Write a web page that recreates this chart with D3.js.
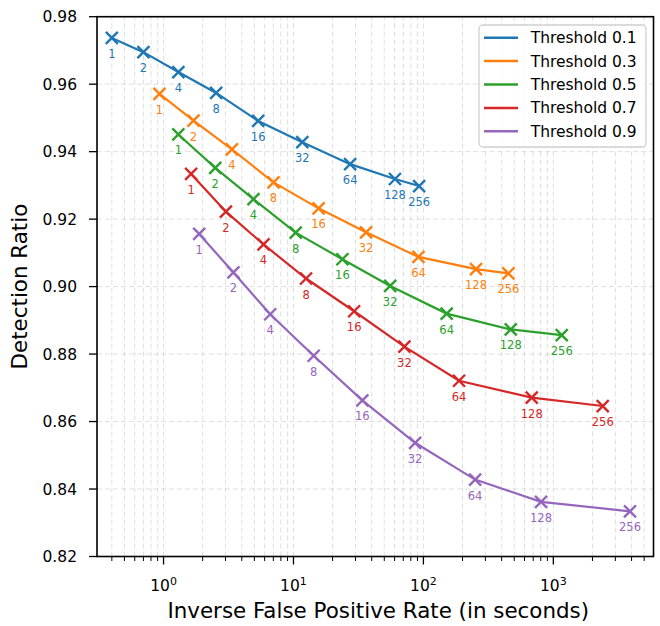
<!DOCTYPE html>
<html>
<head>
<meta charset="utf-8">
<script src="https://cdn.jsdelivr.net/npm/d3@7"></script>
<style>
  body { margin: 0; background: #fff; }
  text { font-family: "DejaVu Sans", sans-serif; }
</style>
</head>
<body>
<div class="svg-container"></div>
<script>
// budget labels shown next to each marker
const budgets = [1, 2, 4, 8, 16, 32, 64, 128, 256];
const thresholds = ['Threshold 0.1', 'Threshold 0.3', 'Threshold 0.5', 'Threshold 0.7', 'Threshold 0.9'];
const colours = ['#1f77b4', '#ff7f0e', '#2ca02c', '#d62728', '#9467bd'];

// inverse false positive rate (seconds), one array per threshold
const ifpr01 = [0.40, 0.70, 1.30, 2.54, 5.35, 11.7, 27.3, 60.4, 92.7];
const ifpr03 = [0.93, 1.70, 3.36, 7.02, 15.6, 36.2, 91.6, 254, 451];
const ifpr05 = [1.30, 2.50, 4.92, 10.4, 23.8, 55.5, 151, 470, 1161];
const ifpr07 = [1.63, 3.02, 5.88, 12.5, 29.3, 71.4, 188, 682, 2400];
const ifpr09 = [1.88, 3.45, 6.62, 14.3, 33.9, 86.3, 250, 804, 3890];

// detection ratio
const det01 = [0.9737, 0.9695, 0.9636, 0.9574, 0.9491, 0.9428, 0.9363, 0.9319, 0.9298];
const det03 = [0.9571, 0.9492, 0.9407, 0.9309, 0.9232, 0.9161, 0.9088, 0.9052, 0.9039];
const det05 = [0.9451, 0.9352, 0.9259, 0.9160, 0.9081, 0.9002, 0.8920, 0.8873, 0.8856];
const det07 = [0.9334, 0.9222, 0.9125, 0.9024, 0.8927, 0.8822, 0.8721, 0.8671, 0.8646];
const det09 = [0.9156, 0.9042, 0.8918, 0.8795, 0.8663, 0.8537, 0.8428, 0.8362, 0.8334];

const yTicks = [0.82, 0.84, 0.86, 0.88, 0.90, 0.92, 0.94, 0.96, 0.98];
const xMajor = [1, 10, 100, 1000];

const xs = [ifpr01, ifpr03, ifpr05, ifpr07, ifpr09];
const ys = [det01, det03, det05, det07, det09];

const series = thresholds.map((name, i) => ({
  name: name,
  colour: colours[i],
  points: budgets.map((b, j) => ({ b: b, x: xs[i][j], y: ys[i][j] }))
}));

// dimensions
const width = 660;
const height = 626;
const margin = { top: 16.7, right: 6.5, bottom: 69.5, left: 97 };

const svg = d3.select('.svg-container')
  .append('svg')
  .attr('width', width)
  .attr('height', height);

const x = d3.scaleLog()
  .domain([0.3075, 5900])
  .range([margin.left, width - margin.right]);

const y = d3.scaleLinear()
  .domain([0.82, 0.98])
  .range([height - margin.bottom, margin.top]);

// minor log ticks
const xMinor = [];
for (let e = -1; e <= 3; e++) {
  for (let m = 2; m <= 9; m++) {
    const v = m * Math.pow(10, e);
    if (v > x.domain()[0] && v < x.domain()[1]) xMinor.push(v);
  }
}

const grid = svg.append('g')
  .attr('stroke', '#b0b0b0')
  .attr('stroke-opacity', 0.4)
  .attr('stroke-width', 1)
  .attr('stroke-dasharray', '5,3');

grid.selectAll('.vg')
  .data(xMajor.concat(xMinor))
  .enter()
  .append('line')
  .attr('x1', d => x(d)).attr('x2', d => x(d))
  .attr('y1', y(0.82)).attr('y2', y(0.98));

grid.selectAll('.hg')
  .data(yTicks)
  .enter()
  .append('line')
  .attr('x1', x.range()[0]).attr('x2', x.range()[1])
  .attr('y1', d => y(d)).attr('y2', d => y(d));

// lines and markers
const line = d3.line()
  .x(d => x(d.x))
  .y(d => y(d.y));

const groups = svg.selectAll('.series')
  .data(series)
  .enter()
  .append('g');

groups.append('path')
  .attr('d', d => line(d.points))
  .attr('fill', 'none')
  .attr('stroke', d => d.colour)
  .attr('stroke-width', 2.2);

const s = 6;
groups.each(function (d) {
  const g = d3.select(this);
  g.selectAll('.mk')
    .data(d.points)
    .enter()
    .append('path')
    .attr('d', p => {
      const cx = x(p.x), cy = y(p.y);
      return `M${cx - s},${cy - s}L${cx + s},${cy + s}M${cx - s},${cy + s}L${cx + s},${cy - s}`;
    })
    .attr('stroke', d.colour)
    .attr('stroke-width', 2.4);

  g.selectAll('.lb')
    .data(d.points)
    .enter()
    .append('text')
    .attr('x', p => x(p.x))
    .attr('y', p => y(p.y) + 20)
    .attr('text-anchor', 'middle')
    .attr('font-size', 11.5)
    .attr('fill', d.colour)
    .text(p => p.b);
});

// frame
svg.append('rect')
  .attr('x', x.range()[0])
  .attr('y', y.range()[1])
  .attr('width', x.range()[1] - x.range()[0])
  .attr('height', y.range()[0] - y.range()[1])
  .attr('fill', 'none')
  .attr('stroke', '#000')
  .attr('stroke-width', 1.6);

// y axis ticks
const yAxis = svg.append('g');
yAxis.selectAll('line')
  .data(yTicks)
  .enter()
  .append('line')
  .attr('x1', x.range()[0] - 8).attr('x2', x.range()[0])
  .attr('y1', d => y(d)).attr('y2', d => y(d))
  .attr('stroke', '#000').attr('stroke-width', 1.3);
yAxis.selectAll('text')
  .data(yTicks)
  .enter()
  .append('text')
  .attr('x', x.range()[0] - 20)
  .attr('y', d => y(d))
  .attr('dy', '0.36em')
  .attr('text-anchor', 'end')
  .attr('font-size', 15.5)
  .text(d => d.toFixed(2));

// x axis ticks
const xAxis = svg.append('g');
const yb = y.range()[0];
xAxis.selectAll('.maj')
  .data(xMajor)
  .enter()
  .append('line')
  .attr('x1', d => x(d)).attr('x2', d => x(d))
  .attr('y1', yb).attr('y2', yb + 8)
  .attr('stroke', '#000').attr('stroke-width', 1.3);
xAxis.selectAll('.min')
  .data(xMinor)
  .enter()
  .append('line')
  .attr('x1', d => x(d)).attr('x2', d => x(d))
  .attr('y1', yb).attr('y2', yb + 4.5)
  .attr('stroke', '#000').attr('stroke-width', 1);
const xl = xAxis.selectAll('.xl')
  .data(xMajor)
  .enter()
  .append('text')
  .attr('x', d => x(d))
  .attr('y', yb + 34)
  .attr('text-anchor', 'middle')
  .attr('font-size', 15.5);
xl.append('tspan').text('10');
xl.append('tspan')
  .attr('font-size', 11)
  .attr('dy', -6)
  .text(d => Math.round(Math.log10(d)));

// axis titles
svg.append('text')
  .attr('x', (x.range()[0] + x.range()[1]) / 2 + 3)
  .attr('y', 618)
  .attr('text-anchor', 'middle')
  .attr('font-size', 21.4)
  .text('Inverse False Positive Rate (in seconds)');

svg.append('text')
  .attr('transform', `translate(27,${(y.range()[0] + y.range()[1]) / 2}) rotate(-90)`)
  .attr('text-anchor', 'middle')
  .attr('font-size', 21.4)
  .text('Detection Ratio');

// legend
const legend = svg.append('g').attr('transform', 'translate(479,25)');
legend.append('rect')
  .attr('width', 167)
  .attr('height', 122)
  .attr('rx', 4)
  .attr('fill', '#fff')
  .attr('fill-opacity', 0.8)
  .attr('stroke', '#d0d0d0')
  .attr('stroke-width', 1.3);
const items = legend.selectAll('.item')
  .data(series)
  .enter()
  .append('g')
  .attr('transform', (d, i) => `translate(0,${12.7 + i * 23.4})`);
items.append('line')
  .attr('x1', 5).attr('x2', 39)
  .attr('stroke', d => d.colour)
  .attr('stroke-width', 2.5);
items.append('text')
  .attr('x', 51.7)
  .attr('dy', '0.36em')
  .attr('font-size', 15.5)
  .text(d => d.name);
</script>
</body>
</html>
